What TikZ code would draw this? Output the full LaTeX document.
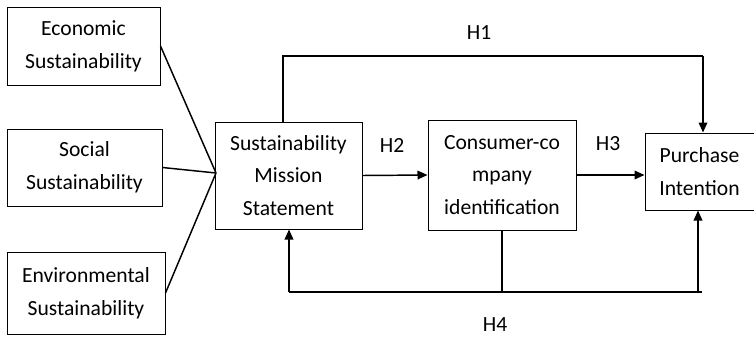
\documentclass[tikz,border=0pt]{standalone}
\usepackage{fontspec}
\setmainfont{Carlito}
\usetikzlibrary{arrows.meta}
\begin{document}
\begin{tikzpicture}[x=0.75pt,y=-0.75pt,
  box/.style={draw,line width=0.75pt,align=center,inner sep=0pt,font=\fontsize{16.2}{24.6}\selectfont},
  conn/.style={line width=1.1pt},
  arr/.style={conn,-{Triangle[length=7.5pt,width=6.5pt]}},
  lab/.style={inner sep=0pt,font=\fontsize{16.2}{20}\selectfont}]
\useasboundingbox (0,0) rectangle (754,336);
\node[box,minimum width=153*0.75pt,minimum height=78*0.75pt] (eco) at (83.5,46) {Economic\\Sustainability};
\node[box,minimum width=155*0.75pt,minimum height=77*0.75pt] (soc) at (84.5,167.5) {Social\\Sustainability};
\node[box,minimum width=158*0.75pt,minimum height=82*0.75pt] (env) at (86,293) {Environmental\\Sustainability};
\node[box,minimum width=147*0.75pt,minimum height=107*0.75pt] (sms) at (288.5,175.5) {Sustainability\\Mission\\Statement};
\node[box,minimum width=148*0.75pt,minimum height=110*0.75pt] (cci) at (502,175) {Consumer-co\\mpany\\identification};
\node[box,minimum width=109*0.75pt,minimum height=77*0.75pt] (pi) at (699.5,171.5) {Purchase\\Intention};
\coordinate (conv) at (216,173);
\draw[conn] (eco.east) -- (conv);
\draw[conn] (soc.east) -- (conv);
\draw[conn] (env.east) -- (conv);
\coordinate (h1a) at (283,56);
\coordinate (h1b) at (703,56);
\draw[conn] (sms.north -| h1a) -- (h1a) -- (h1b);
\draw[arr] (h1b) -- (h1b |- pi.north);
\draw[arr] (sms.east) -- (cci.west);
\draw[arr] (cci.east |- 0,175) -- (pi.west |- 0,175);
\coordinate (h4l) at (289,292);
\coordinate (h4r) at (702,292);
\coordinate (h4p) at (698,292);
\draw[conn] (h4l) -- (h4r);
\draw[arr] (h4l) -- (h4l |- sms.south);
\draw[conn] (cci.south) -- (cci.south |- h4l);
\draw[arr] (h4p) -- (h4p |- pi.south);
\node[lab] (l1) at (479,33) {H1};
\node[lab] (l2) at (392,145) {H2};
\node[lab] (l3) at (608,144) {H3};
\node[lab] (l4) at (495,325) {H4};
\end{tikzpicture}
\end{document}
